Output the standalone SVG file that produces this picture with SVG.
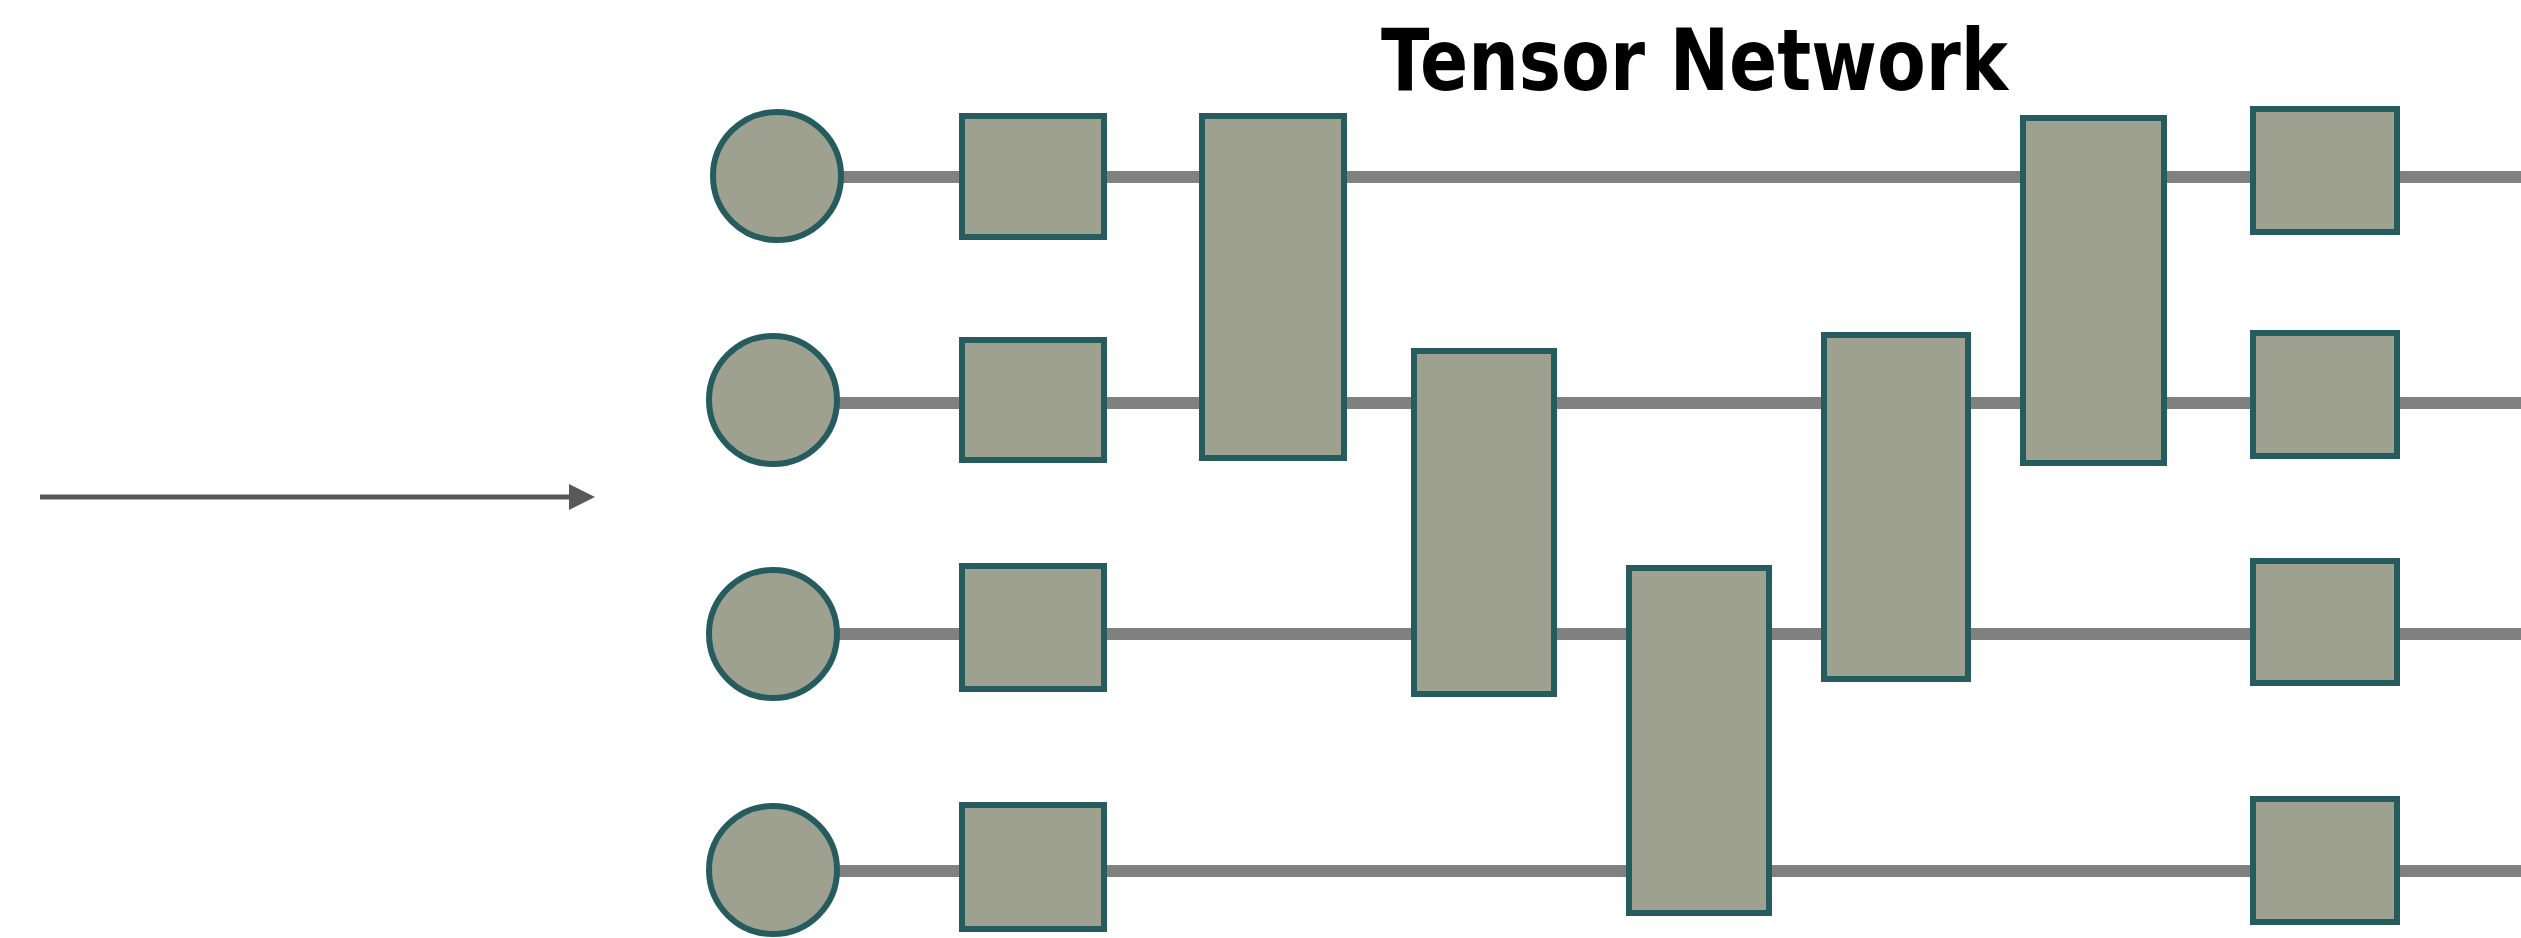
<svg xmlns="http://www.w3.org/2000/svg" width="2521" height="938" viewBox="0 0 2521 938">
<style>
.wire{stroke:#808080;stroke-width:12;fill:none}
.node{fill:#9ea18f;stroke:#265c5e;stroke-width:6}
.title{font-family:"DejaVu Sans","Liberation Sans",Arial,sans-serif;font-weight:bold;font-size:85px;fill:#000}
</style>
<defs>
<marker id="ah" markerWidth="27" markerHeight="27" refX="1" refY="13" orient="auto" markerUnits="userSpaceOnUse">
<path d="M0,0 L26,13 L0,26 Z" fill="#595959"/>
</marker>
</defs>
<rect width="2521" height="938" fill="#fff"/>
<text class="title" x="1381" y="90" textLength="627" lengthAdjust="spacingAndGlyphs">Tensor Network</text>
<g id="connectors">
<line class="wire" x1="776" y1="177" x2="2521" y2="177"/>
<line class="wire" x1="773" y1="403" x2="2521" y2="403"/>
<line class="wire" x1="773" y1="634" x2="2521" y2="634"/>
<line class="wire" x1="773" y1="871" x2="2521" y2="871"/>
<line x1="40" y1="497" x2="570" y2="497" stroke="#595959" stroke-width="5" marker-end="url(#ah)"/>
</g>
<g id="n-c1"><circle class="node" cx="777" cy="176" r="64"/></g>
<g id="n-c2"><circle class="node" cx="773" cy="400" r="64"/></g>
<g id="n-c3"><circle class="node" cx="773" cy="634" r="64"/></g>
<g id="n-c4"><circle class="node" cx="773" cy="870" r="64"/></g>
<g id="n-s11"><rect class="node" x="962" y="116" width="142" height="121"/></g>
<g id="n-s12"><rect class="node" x="962" y="340" width="142" height="120"/></g>
<g id="n-s13"><rect class="node" x="962" y="566" width="142" height="123"/></g>
<g id="n-s14"><rect class="node" x="962" y="805" width="142" height="124"/></g>
<g id="n-g1"><rect class="node" x="1202" y="116" width="142" height="342"/></g>
<g id="n-g2"><rect class="node" x="1414" y="351" width="140" height="343"/></g>
<g id="n-g3"><rect class="node" x="1629" y="568" width="140" height="345"/></g>
<g id="n-g4"><rect class="node" x="1824" y="335" width="144" height="344"/></g>
<g id="n-g5"><rect class="node" x="2023" y="118" width="141" height="345"/></g>
<g id="n-s71"><rect class="node" x="2253" y="109" width="144" height="123"/></g>
<g id="n-s72"><rect class="node" x="2253" y="333" width="144" height="123"/></g>
<g id="n-s73"><rect class="node" x="2253" y="561" width="144" height="122"/></g>
<g id="n-s74"><rect class="node" x="2253" y="799" width="144" height="123"/></g>
</svg>
